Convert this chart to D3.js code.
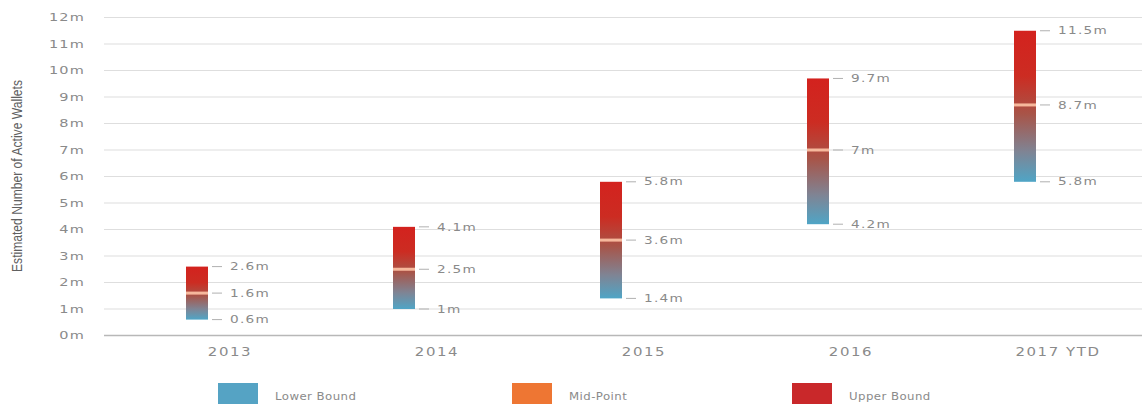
<!DOCTYPE html>
<html>
<head>
<meta charset="utf-8">
<script src="https://cdn.jsdelivr.net/npm/d3@7/dist/d3.min.js"></script>
<style>
  html, body { margin: 0; padding: 0; background: #fff; }
  svg { display: block; }
</style>
</head>
<body>
<svg id="chart" width="1142" height="404"></svg>
<script>
// Estimated active wallet ranges per year (millions)
const years = ["2013", "2014", "2015", "2016", "2017 YTD"];
const lowerBound = [0.6, 1, 1.4, 4.2, 5.8];
const midPoint = [1.6, 2.5, 3.6, 7, 8.7];
const upperBound = [2.6, 4.1, 5.8, 9.7, 11.5];
const lowerLabels = ["0.6m", "1m", "1.4m", "4.2m", "5.8m"];
const midLabels = ["1.6m", "2.5m", "3.6m", "7m", "8.7m"];
const upperLabels = ["2.6m", "4.1m", "5.8m", "9.7m", "11.5m"];
const yTicks = [0, 1, 2, 3, 4, 5, 6, 7, 8, 9, 10, 11, 12];
const legendItems = ["Lower Bound", "Mid-Point", "Upper Bound"];
const legendColors = ["#55a3c4", "#ee7633", "#c9282a"];

const svg = d3.select("#chart");
const font = "'DejaVu Sans', sans-serif";
const textColor = "#8a8a8a";

const y = d3.scaleLinear().domain([0, 12]).range([335.5, 17.5]);
const x = d3.scaleBand().domain(years).range([126.5, 1161.5]);
const barW = 22, barShift = -33;
const barX = d => x(d) + x.bandwidth() / 2 + barShift - barW / 2;

// Gradient running from red at the top of each bar to blue at its base
const defs = svg.append("defs");
const grad = defs.append("linearGradient")
  .attr("id", "rangeGrad").attr("x1", 0).attr("y1", 0).attr("x2", 0).attr("y2", 1);
[["0%", "#d3221e"], ["30%", "#cc2c22"], ["55%", "#a85448"], ["80%", "#7f8494"], ["100%", "#4fa5c6"]]
  .forEach(([o, c]) => grad.append("stop").attr("offset", o).attr("stop-color", c));

// Value axis labels (wide-set lettering)
const yAxis = d3.axisLeft(y).tickValues(yTicks).tickSize(0).tickFormat(d => d + "m");
const gy = svg.append("g").attr("transform", "translate(85,0)").call(yAxis);
gy.select(".domain").remove();
gy.selectAll("text").attr("font-family", font).attr("font-size", 10)
  .attr("letter-spacing", 0.8).attr("fill", textColor).attr("x", 0)
  .attr("transform", "scale(1.45,1)");

// Horizontal gridlines
svg.append("g").selectAll("line").data(yTicks).join("line")
  .attr("x1", 104).attr("x2", 1142)
  .attr("y1", d => y(d)).attr("y2", d => y(d))
  .attr("stroke", d => d === 0 ? "#b8b8b8" : "#dedede")
  .attr("stroke-width", d => d === 0 ? 1.5 : 1.2);

// Category axis
const xAxis = d3.axisBottom(x).tickSize(0);
const gx = svg.append("g").attr("transform", "translate(0,336)").call(xAxis);
gx.select(".domain").remove();
gx.selectAll("text").attr("font-family", font).attr("font-size", 11.5)
  .attr("letter-spacing", 1.2).attr("fill", textColor).attr("dy", "1.5em")
  .attr("transform", "scale(1.3,1)");

// Y axis title
svg.append("text")
  .attr("transform", "translate(22,176) rotate(-90)")
  .attr("text-anchor", "middle")
  .attr("font-family", "'Liberation Sans Narrow', 'Liberation Sans', sans-serif")
  .attr("font-size", 14).attr("fill", "#606060")
  .attr("textLength", 192).attr("lengthAdjust", "spacingAndGlyphs")
  .text("Estimated Number of Active Wallets");

// Range bars
const rows = years.map((yr, i) => ({ yr, lo: lowerBound[i], mid: midPoint[i], hi: upperBound[i],
  loL: lowerLabels[i], midL: midLabels[i], hiL: upperLabels[i] }));

const g = svg.append("g");
g.selectAll("rect.range").data(rows).join("rect").attr("class", "range")
  .attr("x", d => barX(d.yr)).attr("width", barW)
  .attr("y", d => y(d.hi)).attr("height", d => y(d.lo) - y(d.hi))
  .attr("fill", "url(#rangeGrad)");

// Mid-point marker
g.selectAll("rect.mid").data(rows).join("rect").attr("class", "mid")
  .attr("x", d => barX(d.yr)).attr("width", barW)
  .attr("y", d => y(d.mid) - 1.5).attr("height", 3)
  .attr("fill", "#f6b89c");

// Value annotations with short leader lines
const ann = [];
rows.forEach(d => {
  ann.push({ yr: d.yr, v: d.hi, t: d.hiL });
  ann.push({ yr: d.yr, v: d.mid, t: d.midL });
  ann.push({ yr: d.yr, v: d.lo, t: d.loL });
});
g.selectAll("line.lead").data(ann).join("line").attr("class", "lead")
  .attr("x1", d => barX(d.yr) + barW + 4).attr("x2", d => barX(d.yr) + barW + 14)
  .attr("y1", d => y(d.v)).attr("y2", d => y(d.v))
  .attr("stroke", "#b0b0b0").attr("stroke-width", 1);
g.selectAll("text.lab").data(ann).join("text").attr("class", "lab")
  .attr("transform", d => `translate(${barX(d.yr) + barW + 22},${y(d.v)}) scale(1.3,1)`)
  .attr("dy", "0.35em")
  .attr("font-family", font).attr("font-size", 10.5).attr("letter-spacing", 1)
  .attr("fill", textColor)
  .text(d => d.t);

// Legend
const legX = [218, 512, 792];
const lg = svg.append("g").selectAll("g").data(legendItems).join("g")
  .attr("transform", (d, i) => `translate(${legX[i]},383)`);
lg.append("rect").attr("width", 40).attr("height", 22).attr("fill", (d, i) => legendColors[i]);
lg.append("text").attr("transform", "translate(57,13) scale(1.12,1)").attr("dy", "0.35em")
  .attr("font-family", font).attr("font-size", 10.5).attr("letter-spacing", 0.4)
  .attr("fill", textColor)
  .text(d => d);
</script>
</body>
</html>
